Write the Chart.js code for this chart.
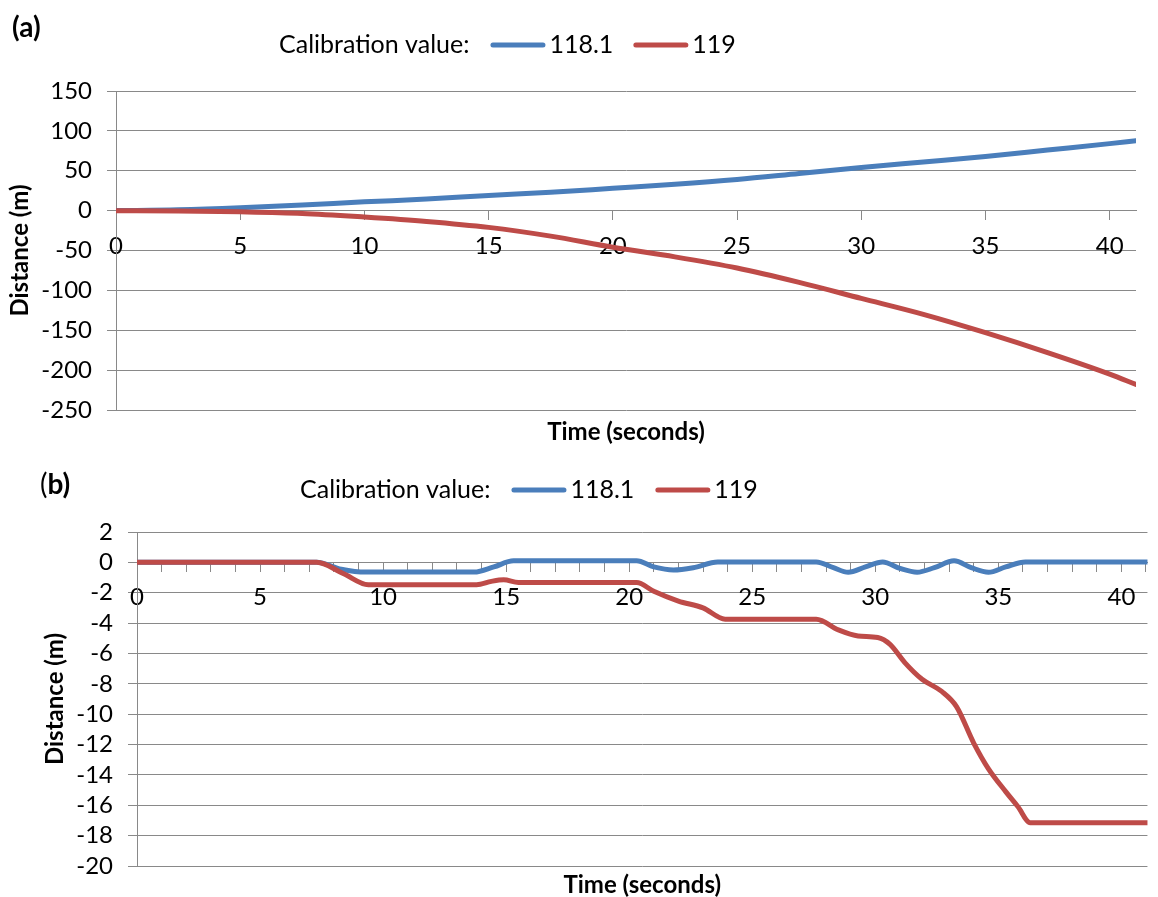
<!DOCTYPE html>
<html>
<head>
<meta charset="utf-8">
<script src="https://cdn.jsdelivr.net/npm/chart.js@4.4.1/dist/chart.umd.min.js"></script>
<style>
  body { margin: 0; background: #fff; }
  .panel { position: relative; width: 1158px; }
</style>
</head>
<body>
<div class="panel" style="height:450px"><canvas id="chartA"></canvas></div>
<div class="panel" style="height:447px"><canvas id="chartB"></canvas></div>
<script>
// panel (a): distance over time
const tA    = [0, 2.5, 5, 7.5, 10, 12.5, 15, 17.5, 20, 22.5, 25, 27.5, 30, 32.5, 35, 37.5, 40, 41.06];
const blueA = [0, 1, 3.5, 7, 11, 14.5, 19, 23, 28, 33, 39, 46.5, 54, 61, 68, 76, 84, 87.5];
const redA  = [0, -0.5, -1.5, -3.5, -8, -13.5, -21, -32, -46, -58, -72, -90, -110, -130, -153, -178, -205, -218];

// panel (b)
const tBlueB = [0, 7.3, 8.3, 9.3, 13.7, 14.5, 15.3, 20.3, 21, 21.8, 22.6, 23.6, 27.6, 28.3, 28.9, 29.6, 30.3, 31, 31.7, 32.4, 33.2, 33.9, 34.6, 35.3, 36.1, 41.06];
const blueB  = [0, 0, -0.45, -0.64, -0.64, -0.3, 0.1, 0.1, -0.3, -0.5, -0.35, 0.03, 0.03, -0.35, -0.65, -0.3, 0.03, -0.4, -0.65, -0.35, 0.1, -0.35, -0.65, -0.3, 0.03, 0.03];
const tRedB  = [0, 7.3, 8.4, 9.4, 13.8, 14.4, 14.9, 15.5, 20.3, 21, 22, 23, 23.9, 27.6, 28.5, 29.3, 30.1, 30.6, 31.2, 31.9, 32.7, 33.3, 34, 34.6, 35.3, 35.8, 36.3, 41.06];
const redB   = [0, 0, -0.75, -1.47, -1.47, -1.25, -1.15, -1.33, -1.33, -1.9, -2.55, -3.0, -3.74, -3.74, -4.45, -4.85, -4.95, -5.4, -6.6, -7.7, -8.5, -9.5, -11.9, -13.6, -15.1, -16.1, -17.15, -17.15];

const seriesLabels = ['118.1', '119'];
const T_MAX = 41.06;

const BLUE = '#4a7ebb';
const RED = '#be4b48';
const GRID = '#898989';
const FONT = 'Lato';

const pts = (xs, ys) => xs.map((x, i) => ({x: x, y: ys[i]}));

// legend row ("Calibration value:" + line samples) and the (a)/(b) label
const calibLegend = {
    id: 'calibLegend',
    afterDraw(chart, args, opts) {
        const ctx = chart.ctx;
        ctx.save();
        ctx.fillStyle = '#000';
        ctx.textBaseline = 'middle';
        ctx.textAlign = 'left';

        let x = opts.panelX;
        opts.panel.forEach(([txt, weight]) => {
            ctx.font = weight + ' 28px ' + FONT;
            ctx.fillText(txt, x, opts.panelY);
            x += ctx.measureText(txt).width;
        });

        ctx.font = '25px ' + FONT;
        const y = opts.legendY;
        x = opts.legendX;
        ctx.fillText('Calibration value:', x, y);
        x += ctx.measureText('Calibration value:').width + 21;
        chart.data.datasets.forEach(ds => {
            ctx.strokeStyle = ds.borderColor;
            ctx.lineWidth = 5;
            ctx.lineCap = 'round';
            ctx.beginPath();
            ctx.moveTo(x + 2.5, y);
            ctx.lineTo(x + 52.5, y);
            ctx.stroke();
            x += 59;
            ctx.fillText(ds.label, x, y);
            x += ctx.measureText(ds.label).width + opts.itemGap;
        });
        ctx.restore();
    }
};

function makeChart(id, cfg) {
    const tickFont = {family: FONT, size: 24};
    const titleFont = {family: FONT, size: 24, weight: 'bold', lineHeight: 1};
    return new Chart(document.getElementById(id), {
        type: 'line',
        data: {
            datasets: [
                {label: seriesLabels[0], data: cfg.blue, borderColor: BLUE, backgroundColor: BLUE, order: 1},
                {label: seriesLabels[1], data: cfg.red, borderColor: RED, backgroundColor: RED, order: 0}
            ].map(d => Object.assign(d, {
                xAxisID: 'x', yAxisID: 'y', borderWidth: 5, pointRadius: 0,
                cubicInterpolationMode: 'monotone', borderCapStyle: 'round', fill: false
            }))
        },
        options: {
            responsive: true,
            maintainAspectRatio: false,
            animation: false,
            layout: {padding: cfg.padding},
            plugins: {
                tooltip: {enabled: false},
                legend: {display: false},
                calibLegend: {
                    legendX: cfg.legendX, legendY: cfg.legendY, itemGap: cfg.itemGap,
                    panel: cfg.panel, panelX: cfg.panelX, panelY: cfg.panelY
                }
            },
            scales: {
                x: {
                    type: 'linear', min: 0, max: T_MAX, position: {y: 0},
                    border: {color: GRID, width: 1},
                    grid: {drawOnChartArea: false, drawTicks: true, tickLength: 9, color: GRID},
                    ticks: {
                        stepSize: cfg.xStep, autoSkip: false, maxRotation: 0, includeBounds: false,
                        padding: 12, color: '#000', font: tickFont,
                        callback: v => (v % 5 === 0 ? String(v) : '')
                    }
                },
                xt: {
                    type: 'linear', position: 'bottom', min: 0, max: T_MAX,
                    ticks: {display: false}, grid: {display: false, drawTicks: false}, border: {display: false},
                    title: {display: true, text: 'Time (seconds)', color: '#000', font: titleFont,
                            padding: {top: cfg.xTitlePad, bottom: 0}}
                },
                y: {
                    min: cfg.yMin, max: cfg.yMax,
                    ticks: {stepSize: cfg.yStep, autoSkip: false, padding: 15, color: '#000', font: tickFont},
                    grid: {color: GRID, tickLength: 9},
                    border: {color: GRID},
                    title: {display: true, text: 'Distance (m)', color: '#000', font: titleFont,
                            padding: {top: cfg.yTitlePad, bottom: 0}},
                    afterFit: s => { s.width = cfg.axisLeft; }
                }
            }
        },
        plugins: [calibLegend]
    });
}

function build() {
    makeChart('chartA', {
        blue: pts(tA, blueA), red: pts(tA, redA),
        padding: {top: 91, right: 22, bottom: 6, left: 0},
        xTitlePad: 10, yTitlePad: 8, axisLeft: 116,
        xStep: 5, yMin: -250, yMax: 150, yStep: 50,
        legendX: 279, legendY: 45, itemGap: 20,
        panel: [['(a)', 'bold']], panelX: 12, panelY: 28
    });
    makeChart('chartB', {
        blue: pts(tBlueB, blueB), red: pts(tRedB, redB),
        padding: {top: 82, right: 3, bottom: 0, left: 0},
        xTitlePad: 7, yTitlePad: 43, axisLeft: 137,
        xStep: 1, yMin: -20, yMax: 2, yStep: 2,
        legendX: 300, legendY: 40, itemGap: 21,
        panel: [['(', 'normal'], ['b)', 'bold']], panelX: 40, panelY: 35
    });
}

Promise.all([
    document.fonts.load('24px ' + FONT),
    document.fonts.load('bold 24px ' + FONT)
]).then(build, build);
</script>
</body>
</html>
